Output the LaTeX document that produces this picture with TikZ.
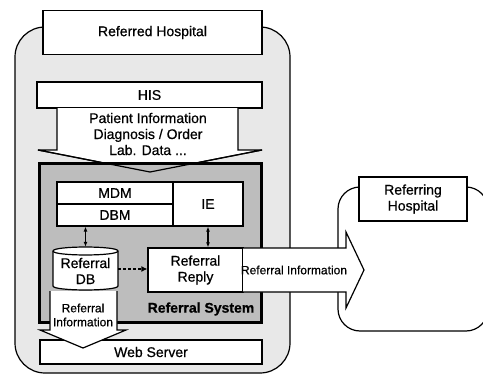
\documentclass[tikz,border=0pt]{standalone}
\usepackage{fontspec}
\setmainfont{Liberation Sans}[FakeBold=0.6]
\usetikzlibrary{arrows.meta,calc}
\definecolor{OuterClr}{rgb}{0.91,0.91,0.91}
\definecolor{SysClr}{rgb}{0.74,0.74,0.74}

\tikzset{
  box/.style={draw,fill=white,line width=1.2pt,inner sep=0pt,align=center},
  bigarrow/.style={draw,fill=white,line width=1.2pt,line join=miter},
  small/.style={font=\fontsize{12}{14}\selectfont,align=center},
  link/.style={line width=1.2pt,{Latex[length=5pt,width=4pt]}-{Latex[length=5pt,width=4pt]}},
  dashlink/.style={line width=1.8pt,dash pattern=on 3pt off 2pt,-{Latex[length=6pt,width=6pt]}},
}

\begin{document}
\begin{tikzpicture}[x=1pt,y=-1pt,font=\fontsize{14}{16}\selectfont]
\useasboundingbox (0,0) rectangle (483,380);

% the two hospitals
\draw[fill=OuterClr,line width=1.2pt,rounded corners=30] (15,27) rectangle (290,373);
\draw[fill=white,line width=1.2pt,rounded corners=22] (338,187) rectangle (488,331);

\node[box,minimum width=219,minimum height=44] (refd) at (152.5,32.5) {Referred Hospital};
\node[box,minimum width=108,minimum height=44] (refg) at (413,199) {Referring\\Hospital};

\node[box,minimum width=225,minimum height=26] (his) at (149.5,95) {HIS};

% data coming down from the HIS
\draw[bigarrow] (57,108) -- (57,150) -- (38,150) -- (150,172) -- (262,150) -- (238,150) -- (238,108);
\node[align=center] (pinfo) at (148,134) {Patient Information\\Diagnosis / Order\\Lab. Data ...};

% referral system
\node[draw,line width=3pt,fill=SysClr,minimum width=222,minimum height=159] (sys) at (150,242.5) {};
\draw[line width=1.2pt] (38,150) -- (150,172) -- (262,150);

\node[box,minimum width=116,minimum height=22] (mdm) at (115,193) {MDM};
\node[box,minimum width=116,minimum height=22] (dbm) at (115,215) {DBM};
\node[box,minimum width=70,minimum height=44] (ie) at (208,204) {IE};

% database drum
\draw[fill=white,line width=1.2pt] (53,251) -- (53,286) .. controls (53,291.3) and (118,291.3) .. (118,286)
  -- (118,251) .. controls (118,245.7) and (53,245.7) .. (53,251) -- cycle;
\draw[line width=1.2pt] (53,251) .. controls (53,256.3) and (118,256.3) .. (118,251);
\node[align=center,minimum width=65,minimum height=44,inner sep=0pt] (db) at (85.5,269) {\\[-2pt]Referral\\DB};

\node[box,minimum width=95,minimum height=44] (reply) at (195.5,270) {Referral\\Reply};

\node[font=\bfseries\fontsize{14}{16}\selectfont] (syslbl) at (201,309) {Referral System};

\draw[link] (db.north |- dbm.south) -- (db.north);
\draw[link] (ie.south) -- (ie.south |- reply.north);
\draw[dashlink] (db.east) -- (db.east -| reply.west);

% information sent to the referring hospital
\draw[bigarrow] (243,248) -- (346,248) -- (346,232) -- (364,270) -- (346,308) -- (346,292) -- (243,292);
\node[small] (outinfo) at (294,270) {Referral Information};

% web server and its feed
\node[box,minimum width=222,minimum height=24] (web) at (151,352) {Web Server};
\draw[bigarrow] (50,291) -- (50,330) -- (40,330) -- (83,348) -- (126,330) -- (117,330) -- (117,291);
\node[small] (dbinfo) at (83,315) {Referral\\Information};

\end{tikzpicture}
\end{document}
